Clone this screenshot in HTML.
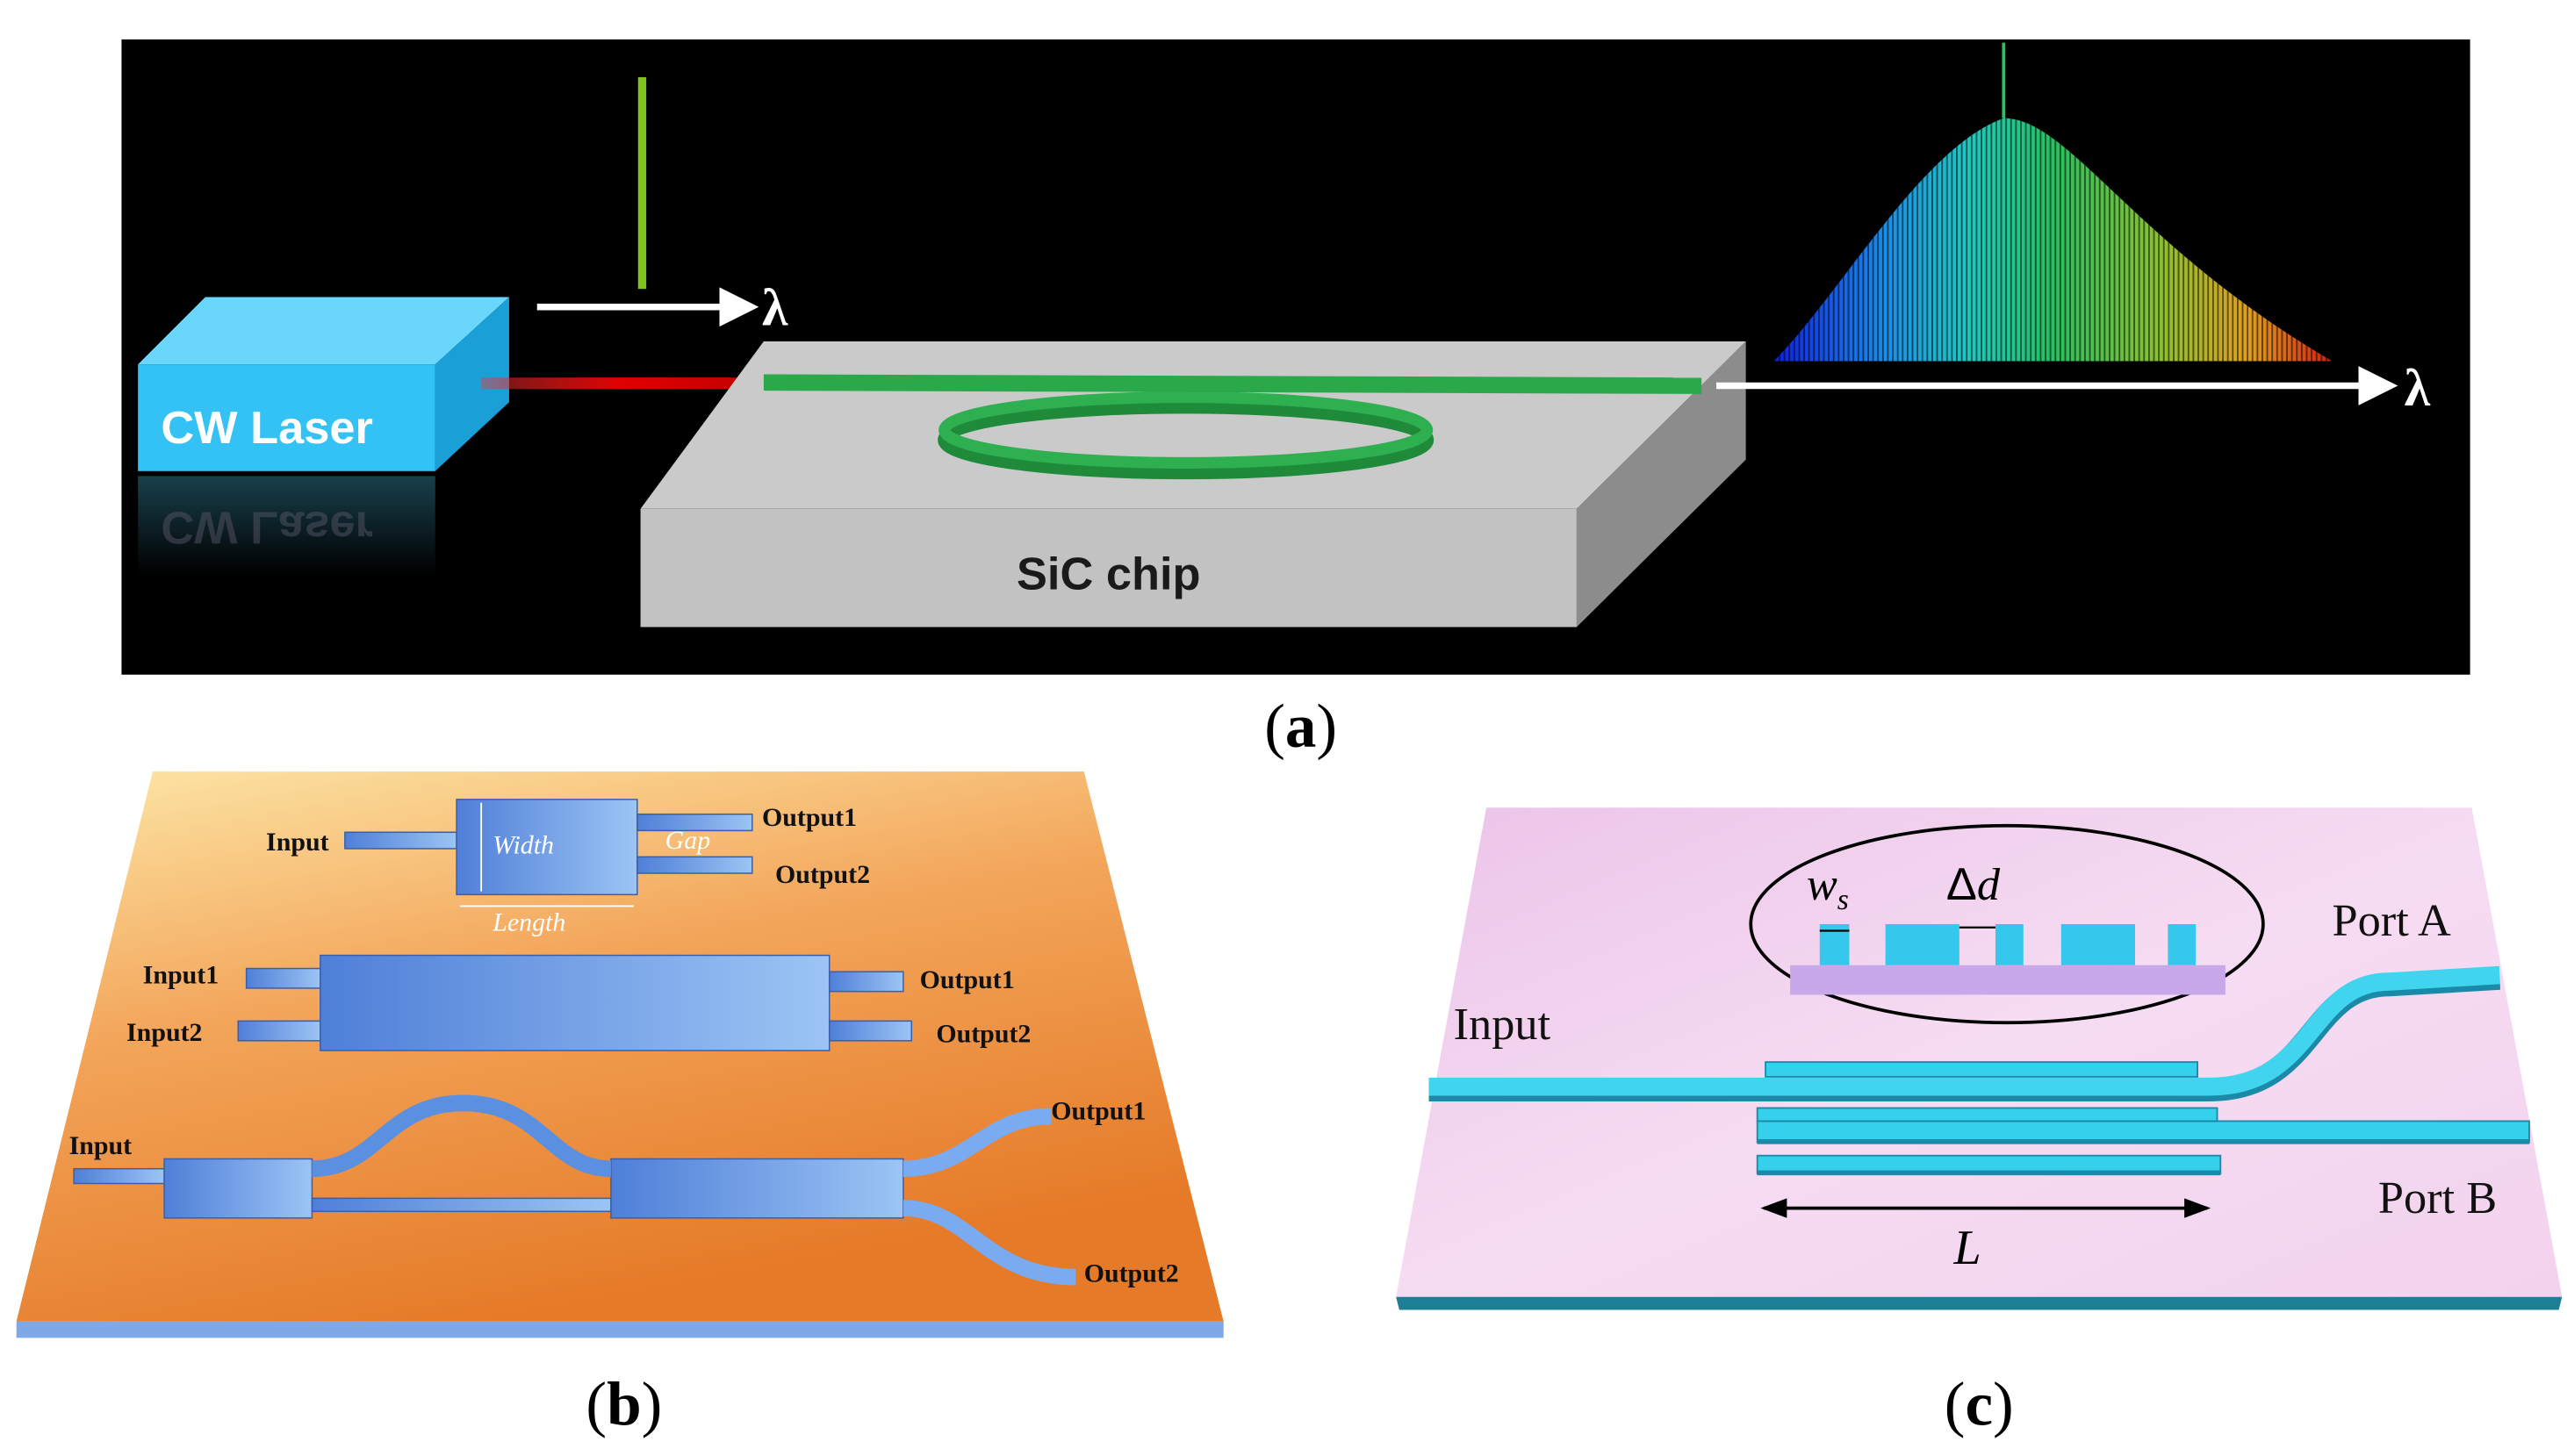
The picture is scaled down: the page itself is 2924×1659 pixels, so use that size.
<!DOCTYPE html>
<html><head><meta charset="utf-8"><style>html,body{margin:0;padding:0;background:#fff}svg{display:block}</style></head>
<body>
<svg width="2924" height="1659" viewBox="0 0 1563 887" preserveAspectRatio="none" xmlns="http://www.w3.org/2000/svg">
<defs>
<linearGradient id="spec" x1="0" x2="1"><stop offset="0" stop-color="#1020e0"/><stop offset="0.2" stop-color="#1a8ee8"/><stop offset="0.35" stop-color="#20c8c0"/><stop offset="0.5" stop-color="#28c060"/><stop offset="0.7" stop-color="#90c030"/><stop offset="0.85" stop-color="#e0a020"/><stop offset="1" stop-color="#d02010"/></linearGradient>
<pattern id="stripes" width="3" height="10" patternUnits="userSpaceOnUse"><rect x="0" y="0" width="1" height="10" fill="#000" opacity="0.55"/></pattern>
<linearGradient id="orange" x1="0" y1="0" x2="0.4" y2="1"><stop offset="0" stop-color="#fde7a8"/><stop offset="0.45" stop-color="#f3a55a"/><stop offset="1" stop-color="#e57a28"/></linearGradient>
<linearGradient id="pink" x1="0" y1="0" x2="1" y2="1"><stop offset="0" stop-color="#ecc4ea"/><stop offset="0.5" stop-color="#f6dcf2"/><stop offset="1" stop-color="#f3d2ee"/></linearGradient>
<linearGradient id="blu" x1="0" x2="1"><stop offset="0" stop-color="#4f7fd8"/><stop offset="1" stop-color="#9cc4f4"/></linearGradient>
<linearGradient id="red" x1="0" x2="1"><stop offset="0" stop-color="#ff3030" stop-opacity="0.4"/><stop offset="0.5" stop-color="#e00000"/><stop offset="1" stop-color="#c00000"/></linearGradient>
<linearGradient id="refl" x1="0" y1="0" x2="0" y2="1"><stop offset="0" stop-color="#2a6a80"/><stop offset="1" stop-color="#000"/></linearGradient>
<marker id="ah" markerWidth="6" markerHeight="6" refX="5" refY="3" orient="auto"><path d="M0,0 L6,3 L0,6z" fill="#fff"/></marker>
<marker id="ak" markerWidth="8" markerHeight="8" refX="7" refY="4" orient="auto"><path d="M0,1 L8,4 L0,7z" fill="#000"/></marker>
<marker id="aks" markerWidth="8" markerHeight="8" refX="1" refY="4" orient="auto"><path d="M8,1 L0,4 L8,7z" fill="#000"/></marker>
</defs>

<rect x="74" y="24" width="1430" height="387" fill="#000"/>
<rect x="388.5" y="47" width="5" height="129" fill="#7fc31c"/>
<line x1="327" y1="187" x2="458" y2="187" stroke="#fff" stroke-width="4" marker-end="url(#ah)"/>
<text x="464" y="198" font-family="Liberation Serif, serif" font-weight="bold" font-size="32" fill="#fff">λ</text>
<rect x="84" y="290" width="181" height="60" fill="url(#refl)" opacity="0.6"/>
<text x="98" y="312" font-family="Liberation Sans, sans-serif" font-weight="bold" font-size="28" fill="#556" opacity="0.5" transform="translate(0,624) scale(1,-1)">CW Laser</text>
<polygon points="84,222 125,181 310,181 265,222" fill="#6ad6fb"/>
<polygon points="265,222 310,181 310,245 265,287" fill="#1a9fd6"/>
<rect x="84" y="222" width="181" height="65" fill="#33c2f3"/>
<text x="98" y="270" font-family="Liberation Sans, sans-serif" font-weight="bold" font-size="28" fill="#fff">CW Laser</text>
<rect x="293" y="230" width="172" height="7" fill="url(#red)"/>
<polygon points="465,208 1063,208 960,310 390,310" fill="#cacaca"/>
<rect x="390" y="310" width="570" height="72" fill="#c2c2c2"/>
<polygon points="960,310 1063,208 1063,280 960,382" fill="#8c8c8c"/>
<text x="675" y="359" text-anchor="middle" font-family="Liberation Sans, sans-serif" font-weight="bold" font-size="28" fill="#1a1a1a">SiC chip</text>
<ellipse cx="722" cy="268" rx="147" ry="20" fill="none" stroke="#1e8a3a" stroke-width="8"/>
<ellipse cx="722" cy="262" rx="147" ry="20" fill="none" stroke="#2eb050" stroke-width="7"/>
<polygon points="465,228 1036,230 1036,240 465,238" fill="#2aa84a"/>
<line x1="1045" y1="235" x2="1456" y2="235" stroke="#fff" stroke-width="4" marker-end="url(#ah)"/>
<text x="1464" y="247" font-family="Liberation Serif, serif" font-weight="bold" font-size="32" fill="#fff">λ</text>
<path d="M1080,220 C1120,180 1170,90 1220,72 C1260,72 1300,150 1420,220 Z" fill="url(#spec)"/>
<path d="M1080,220 C1120,180 1170,90 1220,72 C1260,72 1300,150 1420,220 Z" fill="url(#stripes)"/>
<rect x="1219" y="26" width="2" height="46" fill="#30c060"/>

<text x="792" y="455" text-anchor="middle" font-family="Liberation Serif, serif" font-size="38" fill="#000">(<tspan font-weight="bold">a</tspan>)</text>

<polygon points="10,805 745,805 745,815 10,815" fill="#7fa8e8"/>
<polygon points="93,470 660,470 745,805 10,805" fill="url(#orange)"/>
<g fill="url(#blu)" stroke="#3a5fa8" stroke-width="0.8">
<rect x="210" y="507" width="68" height="10"/>
<rect x="278" y="487" width="110" height="58"/>
<rect x="388" y="496" width="70" height="10"/>
<rect x="388" y="522" width="70" height="10"/>
<rect x="150" y="590" width="45" height="12"/>
<rect x="145" y="622" width="50" height="12"/>
<rect x="195" y="582" width="310" height="58"/>
<rect x="505" y="592" width="45" height="12"/>
<rect x="505" y="622" width="50" height="12"/>
<rect x="45" y="712" width="55" height="9"/>
<rect x="100" y="706" width="90" height="36"/>
<rect x="190" y="730" width="182" height="8"/>
<rect x="372" y="706" width="178" height="36"/>
</g>
<path d="M190,712 C230,712 235,672 282,672 C330,672 335,712 372,712" fill="none" stroke="#5b8fe0" stroke-width="10"/>
<path d="M550,712 C590,712 600,680 640,680" fill="none" stroke="#7aaaf0" stroke-width="10"/>
<path d="M550,736 C590,736 600,778 655,778" fill="none" stroke="#7aaaf0" stroke-width="10"/>
<g font-family="Liberation Serif, serif" font-weight="bold" font-size="16" fill="#111">
<text x="162" y="518">Input</text><text x="464" y="503">Output1</text><text x="472" y="538">Output2</text>
<text x="87" y="599">Input1</text><text x="77" y="634">Input2</text><text x="560" y="602">Output1</text><text x="570" y="635">Output2</text>
<text x="42" y="703">Input</text><text x="640" y="682">Output1</text><text x="660" y="781">Output2</text>
</g>
<g font-family="Liberation Serif, serif" font-style="italic" font-size="16" fill="#fff">
<text x="300" y="520">Width</text><text x="405" y="517">Gap</text><text x="300" y="567">Length</text>
</g>
<line x1="293" y1="489" x2="293" y2="543" stroke="#fff" stroke-width="1"/>
<line x1="280" y1="552" x2="386" y2="552" stroke="#fff" stroke-width="1"/>

<text x="380" y="868" text-anchor="middle" font-family="Liberation Serif, serif" font-size="38" fill="#000">(<tspan font-weight="bold">b</tspan>)</text>

<polygon points="850,790 1560,790 1558,798 852,798" fill="#1c7f96"/>
<polygon points="905,492 1505,492 1560,790 850,790" fill="url(#pink)"/>
<ellipse cx="1222" cy="563" rx="156" ry="60" fill="none" stroke="#000" stroke-width="2"/>
<rect x="1090" y="588" width="265" height="18" fill="#c8a8e8"/>
<g fill="#35c8ec"><rect x="1108" y="563" width="18" height="25"/><rect x="1148" y="563" width="45" height="25"/><rect x="1215" y="563" width="17" height="25"/><rect x="1255" y="563" width="45" height="25"/><rect x="1320" y="563" width="17" height="25"/></g>
<line x1="1193" y1="565" x2="1215" y2="565" stroke="#000" stroke-width="1.2"/>
<line x1="1108" y1="567" x2="1126" y2="567" stroke="#000" stroke-width="1.2"/>
<text x="1100" y="548" font-family="Liberation Serif, serif" font-style="italic" font-size="28">w<tspan font-size="18" dy="6">s</tspan></text>
<text x="1185" y="548" font-family="Liberation Sans, sans-serif" font-size="28">Δ<tspan font-family="Liberation Serif, serif" font-style="italic">d</tspan></text>
<g fill="#35d0ec" stroke="#1a8aa8" stroke-width="1">
<rect x="1075" y="647" width="263" height="9"/>
<rect x="1070" y="683" width="470" height="13"/>
<rect x="1070" y="675" width="280" height="8"/>
<rect x="1070" y="704" width="282" height="11"/>
</g>
<rect x="1070" y="713" width="282" height="3" fill="#1a8aa8"/>
<rect x="1070" y="694" width="470" height="3" fill="#1a8aa8"/>
<path d="M870,664 L1345,664 C1410,664 1405,600 1455,600 L1522,596" fill="none" stroke="#1a8aa8" stroke-width="14"/>
<path d="M870,662 L1345,662 C1410,662 1405,598 1455,598 L1522,594" fill="none" stroke="#40d4ee" stroke-width="11"/>
<line x1="1074" y1="736" x2="1344" y2="736" stroke="#000" stroke-width="2" marker-end="url(#ak)" marker-start="url(#aks)"/>
<text x="1198" y="770" text-anchor="middle" font-family="Liberation Serif, serif" font-style="italic" font-size="30">L</text>
<g font-family="Liberation Serif, serif" font-size="28" fill="#111">
<text x="885" y="633">Input</text><text x="1420" y="570">Port A</text><text x="1448" y="739">Port B</text>
</g>

<text x="1205" y="868" text-anchor="middle" font-family="Liberation Serif, serif" font-size="38" fill="#000">(<tspan font-weight="bold">c</tspan>)</text>
</svg>
</body></html>
